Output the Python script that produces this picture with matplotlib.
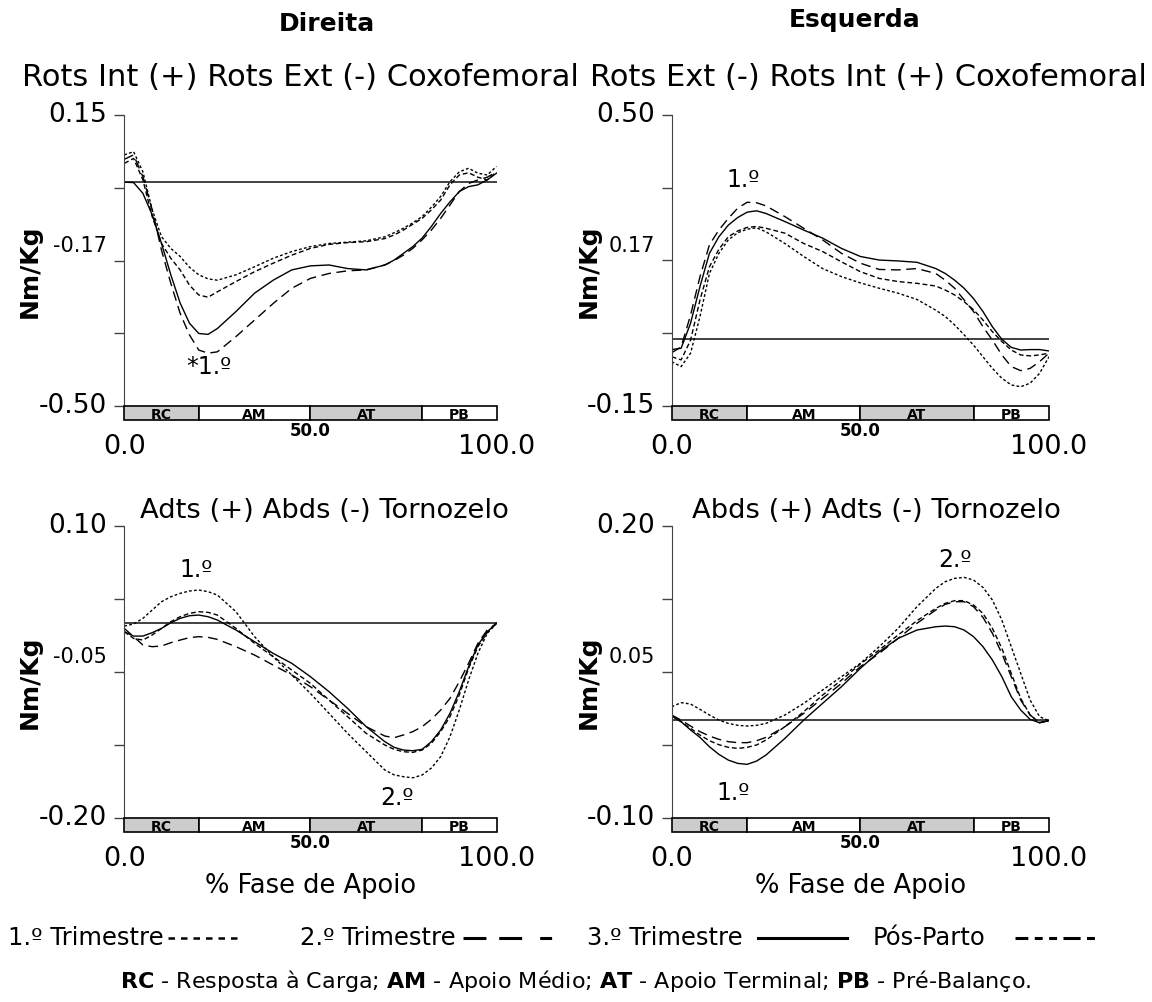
import numpy as np
import matplotlib as mpl
mpl.use('Agg')
import matplotlib.pyplot as plt
from matplotlib.lines import Line2D

W, H = 1152, 1002

# % fase de apoio
pct = [0, 2.5, 5, 7.5, 10, 12.5, 15, 17.5, 20, 22.5, 25, 30, 35, 40, 45, 50, 55, 60, 65, 70,
       72.5, 75, 77.5, 80, 82.5, 85, 87.5, 90, 92.5, 95, 97.5, 100]

# Coxofemoral direita (Rots Int + / Rots Ext -)
hip_r_t1 = [0.061, 0.068, 0.023, -0.062, -0.122, -0.148, -0.166, -0.190, -0.207, -0.216, -0.219, -0.207,
            -0.189, -0.170, -0.155, -0.144, -0.137, -0.134, -0.131, -0.122, -0.113, -0.103, -0.091, -0.077,
            -0.056, -0.032, 0.001, 0.023, 0.031, 0.020, 0.016, 0.035]
hip_r_t2 = [0.051, 0.061, 0.012, -0.062, -0.152, -0.226, -0.293, -0.341, -0.375, -0.382, -0.379, -0.345,
            -0.308, -0.271, -0.237, -0.215, -0.204, -0.198, -0.196, -0.185, -0.175, -0.163, -0.148, -0.129,
            -0.107, -0.081, -0.051, -0.021, -0.003, 0.005, 0.011, 0.023]
hip_r_t3 = [0.0, -0.001, -0.025, -0.073, -0.137, -0.207, -0.270, -0.315, -0.338, -0.340, -0.327, -0.289,
            -0.248, -0.219, -0.196, -0.187, -0.185, -0.193, -0.196, -0.185, -0.174, -0.159, -0.144, -0.125,
            -0.099, -0.070, -0.044, -0.021, -0.010, -0.006, 0.005, 0.020]
hip_r_pp = [0.042, 0.053, 0.005, -0.077, -0.137, -0.170, -0.196, -0.230, -0.252, -0.257, -0.245, -0.222,
            -0.200, -0.181, -0.163, -0.148, -0.139, -0.135, -0.133, -0.126, -0.118, -0.107, -0.094, -0.081,
            -0.062, -0.040, -0.006, 0.016, 0.021, 0.011, 0.005, 0.023]

# Coxofemoral esquerda (Rots Ext - / Rots Int +)
hip_l_t1 = [-0.051, -0.062, -0.032, 0.050, 0.146, 0.191, 0.221, 0.237, 0.245, 0.248, 0.239, 0.213,
            0.184, 0.157, 0.139, 0.125, 0.113, 0.102, 0.088, 0.064, 0.050, 0.031, 0.009, -0.014,
            -0.040, -0.066, -0.088, -0.103, -0.107, -0.099, -0.077, -0.040]
hip_l_t2 = [-0.031, -0.018, 0.053, 0.139, 0.210, 0.243, 0.269, 0.292, 0.305, 0.304, 0.297, 0.273,
            0.247, 0.221, 0.191, 0.169, 0.155, 0.154, 0.157, 0.146, 0.131, 0.113, 0.087, 0.061,
            0.027, -0.003, -0.036, -0.062, -0.071, -0.066, -0.051, -0.032]
hip_l_t3 = [-0.024, -0.021, 0.035, 0.117, 0.191, 0.228, 0.254, 0.271, 0.283, 0.286, 0.280, 0.262,
            0.243, 0.225, 0.202, 0.184, 0.176, 0.174, 0.171, 0.157, 0.146, 0.131, 0.113, 0.090,
            0.061, 0.027, -0.001, -0.019, -0.025, -0.024, -0.024, -0.027]
hip_l_pp = [-0.040, -0.047, -0.003, 0.087, 0.161, 0.200, 0.228, 0.241, 0.249, 0.251, 0.247, 0.236,
            0.213, 0.195, 0.172, 0.150, 0.135, 0.128, 0.124, 0.118, 0.109, 0.098, 0.083, 0.065,
            0.042, 0.016, -0.006, -0.025, -0.036, -0.038, -0.036, -0.032]

# Tornozelo direita (Adts + / Abds -)
ank_r_t1 = [-0.0031, -0.001, 0.0048, 0.0134, 0.0219, 0.027, 0.0305, 0.0329, 0.0339, 0.0322, 0.0288, 0.0116,
            -0.014, -0.0346, -0.0534, -0.0723, -0.0928, -0.1134, -0.1322, -0.151, -0.156, -0.1579, -0.159,
            -0.1562, -0.149, -0.1373, -0.1168, -0.0894, -0.0586, -0.0312, -0.0106, -0.0003]
ank_r_t2 = [-0.0055, -0.014, -0.0226, -0.0243, -0.0236, -0.0202, -0.0175, -0.015, -0.014, -0.0147, -0.0168,
            -0.0243, -0.0329, -0.0432, -0.0534, -0.0654, -0.0791, -0.0928, -0.1065, -0.1161, -0.1178, -0.115,
            -0.1116, -0.1065, -0.099, -0.0894, -0.0774, -0.0603, -0.0414, -0.0209, -0.0072, -0.0003]
ank_r_t3 = [-0.0089, -0.0134, -0.0134, -0.0099, -0.0055, 0.0003, 0.0048, 0.0075, 0.0082, 0.0065, 0.0031,
            -0.0072, -0.0192, -0.0312, -0.0414, -0.0551, -0.0705, -0.0877, -0.1065, -0.1219, -0.1277, -0.1305,
            -0.1312, -0.1298, -0.1219, -0.1099, -0.0928, -0.0705, -0.0449, -0.0226, -0.0089, -0.0003]
ank_r_pp = [-0.0089, -0.0158, -0.0175, -0.0123, -0.0055, 0.0014, 0.0065, 0.0099, 0.0116, 0.011, 0.0082,
            -0.0055, -0.0209, -0.0346, -0.0483, -0.062, -0.0791, -0.0962, -0.1134, -0.1253, -0.1298, -0.1322,
            -0.1329, -0.1305, -0.1236, -0.1116, -0.0962, -0.074, -0.0466, -0.0243, -0.0099, -0.0003]

# Tornozelo esquerda (Abds + / Adts -)
ank_l_t1 = [0.014, 0.0182, 0.0168, 0.0113, 0.0055, 0.0003, -0.0031, -0.0051, -0.0058, -0.0051, -0.0031,
            0.0055, 0.0175, 0.0312, 0.0449, 0.0586, 0.0757, 0.0945, 0.1168, 0.1356, 0.1425, 0.1459, 0.1469,
            0.1442, 0.1366, 0.1236, 0.1031, 0.0757, 0.0483, 0.0209, 0.0038, -0.0003]
ank_l_t2 = [0.0055, 0.0003, -0.0058, -0.0116, -0.0161, -0.0195, -0.0219, -0.0229, -0.0229, -0.0209, -0.0175,
            -0.0065, 0.0072, 0.0226, 0.038, 0.0551, 0.0688, 0.0842, 0.0997, 0.1134, 0.1192, 0.1219, 0.1219,
            0.1168, 0.1058, 0.0894, 0.0688, 0.0449, 0.0209, 0.0055, -0.0024, -0.0003]
ank_l_t3 = [0.0045, -0.0014, -0.0099, -0.0175, -0.0271, -0.0349, -0.0408, -0.0442, -0.0452, -0.0418, -0.0356,
            -0.0185, 0.0003, 0.0175, 0.0346, 0.0534, 0.0705, 0.0842, 0.0928, 0.0962, 0.0969, 0.0962, 0.0928,
            0.086, 0.0757, 0.062, 0.0449, 0.0243, 0.0106, 0.001, -0.0024, -0.0003]
ank_l_pp = [0.0045, -0.0014, -0.0082, -0.0151, -0.0209, -0.025, -0.0277, -0.0288, -0.0277, -0.0253, -0.0202,
            -0.0065, 0.0089, 0.026, 0.0414, 0.0579, 0.0723, 0.0877, 0.1024, 0.1151, 0.1202, 0.123, 0.123,
            0.1185, 0.1099, 0.0945, 0.074, 0.0483, 0.0226, 0.0055, -0.0024, -0.0003]

phase_names = ['RC', 'AM', 'AT', 'PB']
phase_start = [0, 20, 50, 80]
phase_end = [20, 50, 80, 100]

legend_labels = ['1.º Trimestre', '2.º Trimestre', '3.º Trimestre', 'Pós-Parto']

STY = {'t1': (0, (2, 1.6)), 't2': (0, (7, 4)), 't3': '-', 'pp': (0, (3.5, 2))}


def fx(x):
    return x / W


def fy(y):
    return 1 - y / H


def rect(x0, y0, x1, y1):
    return [fx(x0), fy(y1), (x1 - x0) / W, (y1 - y0) / H]


fig = plt.figure(figsize=(W / 100, H / 100), dpi=100)


def panel(box, ylim, ylabels, series, title, title_xy, title_size, notes, ylab_x, ylab_dy, xlabel=False):
    x0, y0, x1, y1 = box
    ax = fig.add_axes(rect(x0, y0, x1, y1))
    ax.set_xlim(0, 100)
    ax.set_ylim(*ylim)
    for s in ['top', 'right', 'bottom']:
        ax.spines[s].set_visible(False)
    ax.spines['left'].set_color('#444444')
    ax.set_xticks([])
    ax.set_yticks(np.linspace(ylim[0], ylim[1], 5))
    ax.set_yticklabels([])
    ax.tick_params(axis='y', length=7, width=1, color='#444444')
    aw, ah = x1 - x0, y1 - y0
    # y labels: top, middle (smaller, raised), bottom
    ax.text(-17 / aw, 1.0, ylabels[2], transform=ax.transAxes, ha='right', va='center', fontsize=19)
    ax.text(-17 / aw, 0.5 + 15 / ah, ylabels[1], transform=ax.transAxes, ha='right', va='center', fontsize=15)
    ax.text(-17 / aw, 0.0, ylabels[0], transform=ax.transAxes, ha='right', va='center', fontsize=19)
    ax.text(ylab_x / aw, 0.5 - ylab_dy / ah, 'Nm/Kg', transform=ax.transAxes, rotation=90,
            ha='center', va='center', fontsize=18, fontweight='bold')
    ax.axhline(0, color='#333333', lw=1.3)
    for key, vals in series.items():
        ax.plot(pct, vals, color='black', lw=1.0, linestyle=STY[key])
    for txt, xv, yv in notes:
        ax.text(xv, yv, txt, ha='center', va='center', fontsize=17)
    fig.text(fx(title_xy[0]), fy(title_xy[1]), title, ha='center', va='baseline', fontsize=title_size)

    # phase bar
    bx = fig.add_axes(rect(x0, y1, x1, y1 + 14))
    bx.set_xlim(0, 100)
    bx.set_ylim(-0.5, 0.5)
    bx.axis('off')
    widths = [e - s for s, e in zip(phase_start, phase_end)]
    bx.barh(0, widths, left=phase_start, height=1, color=['#cccccc', 'white', '#cccccc', 'white'],
            edgecolor='black', lw=1.2, clip_on=False)
    for name, s, e in zip(phase_names, phase_start, phase_end):
        bx.text((s + e) / 2, -0.42, name, ha='center', va='baseline', fontsize=10, fontweight='bold')

    ax.text(0, -41 / ah, '0.0', transform=ax.transAxes, ha='center', va='center', fontsize=19.5)
    ax.text(1, -41 / ah, '100.0', transform=ax.transAxes, ha='center', va='center', fontsize=19.5)
    ax.text(0.5, -25 / ah, '50.0', transform=ax.transAxes, ha='center', va='center', fontsize=12,
            fontweight='bold')
    if xlabel:
        ax.text(0.5, -68 / ah, '% Fase de Apoio', transform=ax.transAxes, ha='center', va='center',
                fontsize=18.5)
    return ax


panel((124.3, 115, 496.5, 406), (-0.50, 0.15), ['-0.50', '-0.17', '0.15'],
      {'t1': hip_r_t1, 't2': hip_r_t2, 't3': hip_r_t3, 'pp': hip_r_pp},
      'Rots Int (+) Rots Ext (-) Coxofemoral', (300, 86), 22,
      [('*1.º', 22.7, -0.412)], -95, 11)
panel((671.7, 115, 1049, 406), (-0.15, 0.50), ['-0.15', '0.17', '0.50'],
      {'t1': hip_l_t1, 't2': hip_l_t2, 't3': hip_l_t3, 'pp': hip_l_pp},
      'Rots Ext (-) Rots Int (+) Coxofemoral', (868, 86), 22,
      [('1.º', 18.8, 0.355)], -83, 11)
panel((124.3, 525.7, 496.5, 817.7), (-0.20, 0.10), ['-0.20', '-0.05', '0.10'],
      {'t1': ank_r_t1, 't2': ank_r_t2, 't3': ank_r_t3, 'pp': ank_r_pp},
      'Adts (+) Abds (-) Tornozelo', (324, 518), 19.7,
      [('1.º', 19.2, 0.0545), ('2.º', 73.4, -0.18)], -95, 11, xlabel=True)
panel((671.7, 525.7, 1049, 817.7), (-0.10, 0.20), ['-0.10', '0.05', '0.20'],
      {'t1': ank_l_t1, 't2': ank_l_t2, 't3': ank_l_t3, 'pp': ank_l_pp},
      'Abds (+) Adts (-) Tornozelo', (876, 518), 19.7,
      [('2.º', 75.2, 0.1647), ('1.º', 16.4, -0.075)], -83, 11, xlabel=True)

# column headers
fig.text(fx(327), fy(31), 'Direita', ha='center', va='baseline', fontsize=18, fontweight='bold')
fig.text(fx(855), fy(27), 'Esquerda', ha='center', va='baseline', fontsize=18, fontweight='bold')

# legend row
leg_text_x = [8, 300, 587, 873]
leg_line_x = [(168, 240), (463, 555), (758, 847), (1015, 1097)]
leg_styles = [(0, (2.6, 2.4)), (0, (7.5, 4.2, 7.5, 5.9, 3.9, 6)), '-',
              (0, (4.2, 2.1, 2.6, 2.1, 2.6, 2.1, 5.6, 2.1, 2.6, 2.1))]
leg_widths = [1.8, 2.2, 2.2, 2.2]
for lab, tx, (la, lb), ls, lw in zip(legend_labels, leg_text_x, leg_line_x, leg_styles, leg_widths):
    fig.text(fx(tx), fy(945), lab, ha='left', va='baseline', fontsize=17.5)
    fig.add_artist(Line2D([fx(la), fx(lb)], [fy(938), fy(938)], transform=fig.transFigure,
                          color='black', lw=lw, linestyle=ls))

fig.text(0.5, fy(988),
         r'$\bf{RC}$ - Resposta à Carga; $\bf{AM}$ - Apoio Médio; $\bf{AT}$ - Apoio Terminal; '
         r'$\bf{PB}$ - Pré-Balanço.',
         ha='center', va='baseline', fontsize=16)

fig.savefig('out.png', dpi=100)
